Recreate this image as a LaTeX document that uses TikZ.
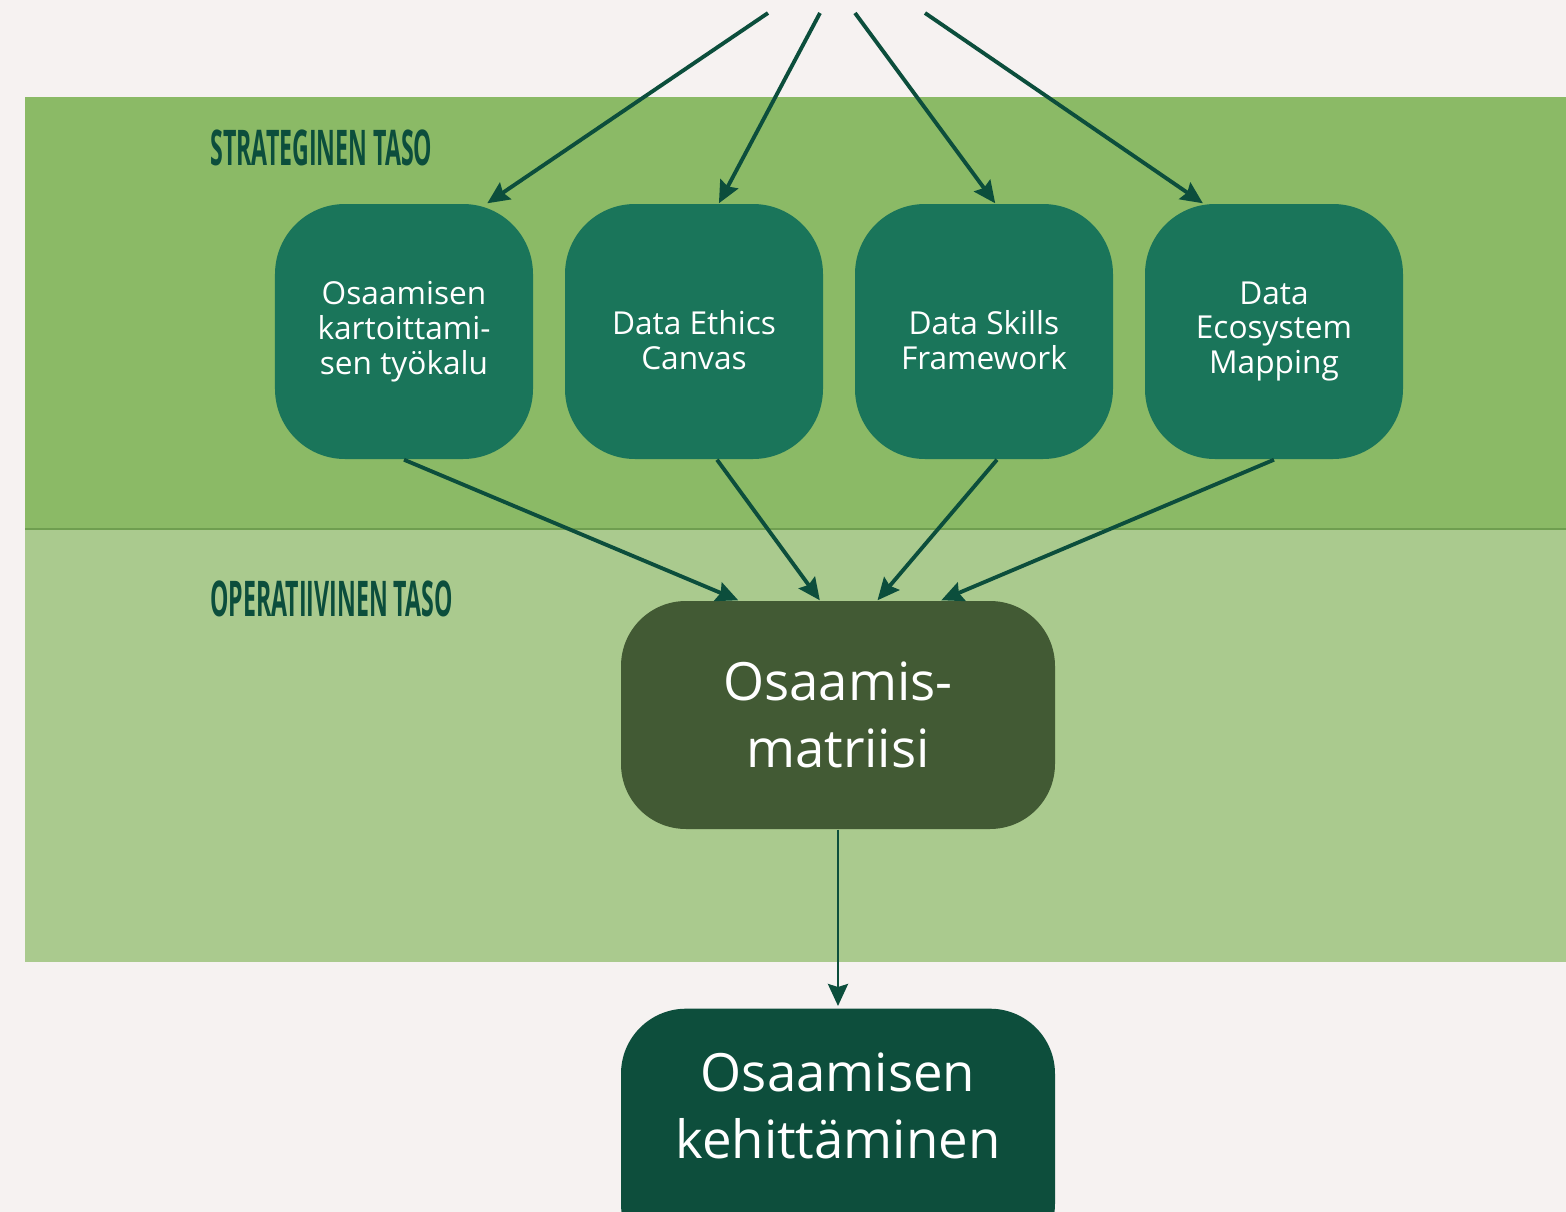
\documentclass[tikz,border=0pt]{standalone}
\usepackage{fontspec}
\setmainfont{Open Sans}
\newfontfamily\tasofont[FakeStretch=0.47]{Open Sans}
\usetikzlibrary{arrows.meta, calc}

\definecolor{paper}{HTML}{F6F2F1}
\definecolor{strategia}{HTML}{8BBA66}
\definecolor{operatiivi}{HTML}{AACA8E}
\definecolor{rajaviiva}{HTML}{6F9E50}
\definecolor{tyokalu}{HTML}{1A755A}
\definecolor{matriisi}{HTML}{425A34}
\definecolor{kehitys}{HTML}{0D4E3C}
\definecolor{nuoli}{HTML}{0C4E3C}

\begin{document}
\begin{tikzpicture}[
    toolbox/.style={rectangle, rounded corners=0.7cm, fill=tyokalu, text=white,
        minimum width=2.58cm, minimum height=2.55cm, align=center,
        font=\fontsize{9}{9.9}\selectfont},
    bigbox/.style={rectangle, rounded corners=0.65cm, text=white,
        minimum width=4.34cm, align=center, font=\fontsize{15}{19}\selectfont},
    tasolabel/.style={anchor=west, text=nuoli, font=\tasofont\bfseries\fontsize{14}{14}\selectfont},
    flow/.style={draw=nuoli, line width=1.1pt, -{Stealth[length=0.22cm, width=0.2cm, inset=0.03cm]}}
]
    \useasboundingbox (0,0) rectangle (15.66,-12.12);
    \clip (0,0) rectangle (15.66,-12.12);
    \fill[paper] (0,0) rectangle (15.66,-12.12);

    % Levels
    \fill[strategia] (0.25,-0.97) rectangle (15.66,-5.29);
    \fill[operatiivi] (0.25,-5.29) rectangle (15.66,-9.62);
    \draw[rajaviiva, line width=0.4pt] (0.25,-5.29) -- (15.66,-5.29);
    \node[tasolabel] (strateginen) at (1.98,-1.48) {STRATEGINEN TASO};
    \node[tasolabel] (operatiivinen) at (1.98,-5.99) {OPERATIIVINEN TASO};

    % Nodes
    \node[toolbox] (kartoitus) at (4.04,-3.315) {Osaamisen\\kartoittami-\\sen työkalu};
    \node[toolbox] (ethics) at (6.94,-3.315) {\rule{0pt}{1.3em}Data Ethics\\Canvas};
    \node[toolbox] (skills) at (9.84,-3.315) {\rule{0pt}{1.3em}Data Skills\\Framework};
    \node[toolbox] (ecosystem) at (12.74,-3.315) {Data\\Ecosystem\\Mapping};
    \node[bigbox, fill=matriisi, minimum height=2.28cm] (matriisi) at (8.38,-7.15) {Osaamis-\\matriisi};
    \node[bigbox, fill=kehitys, minimum height=2.6cm, anchor=north] (kehittaminen) at (8.38,-10.08) {};
    \node[bigbox, minimum height=0cm] (kehitysteksti) at (8.38,-11.06) {Osaamisen\\kehittäminen};

    % Free ends on top
    \coordinate (in1) at (7.68,-0.13);
    \coordinate (in2) at (8.20,-0.13);
    \coordinate (in3) at (8.55,-0.13);
    \coordinate (in4) at (9.25,-0.13);

    % Paths
    \draw[flow] (in1) -- (kartoitus.57);
    \draw[flow] (in2) -- (ethics.79.3);
    \draw[flow] (in3) -- (skills.85);
    \draw[flow] (in4) -- (ecosystem.119.5);

    \draw[flow] (kartoitus.south) -- (matriisi.131.5);
    \draw[flow] ($(ethics.south)+(0.23,0)$) -- (matriisi.99.5);
    \draw[flow] ($(skills.south)+(0.13,0)$) -- (matriisi.71.6);
    \draw[flow] (ecosystem.south) -- (matriisi.48.7);

    \draw[flow, line width=0.85pt] (matriisi.south) -- ($(kehittaminen.north)+(0,0.02)$);
\end{tikzpicture}
\end{document}
